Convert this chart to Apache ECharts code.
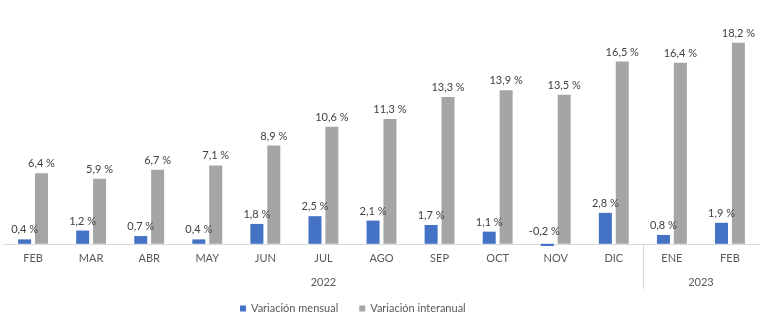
<!DOCTYPE html>
<html>
<head>
<meta charset="utf-8">
<script src="https://cdn.jsdelivr.net/npm/echarts@6/dist/echarts.min.js"></script>
<style>
  html, body { margin: 0; padding: 0; background: #ffffff; }
  #chart { width: 768px; height: 328px; }
</style>
</head>
<body>
<div id="chart"></div>
<script>
// Months shown on the category axis (Feb 2022 – Feb 2023)
const months = ['FEB', 'MAR', 'ABR', 'MAY', 'JUN', 'JUL', 'AGO', 'SEP', 'OCT', 'NOV', 'DIC', 'ENE', 'FEB'];

// Year groups: label, position on the month scale, and the divider between groups
const yearLabels = ['2022', '2023'];
const yearCenters = [5, 11.5];
const yearDividers = [10.5];

// Monthly and year-over-year price change, in percent
const monthlyChange = [0.4, 1.2, 0.7, 0.4, 1.8, 2.5, 2.1, 1.7, 1.1, -0.2, 2.8, 0.8, 1.9];
const annualChange = [6.4, 5.9, 6.7, 7.1, 8.9, 10.6, 11.3, 13.3, 13.9, 13.5, 16.5, 16.4, 18.2];

const seriesNames = ['Variación mensual', 'Variación interanual'];

const FONT = 'Lato, "Noto Sans", sans-serif';
const fmt = v => v.toFixed(1).replace('.', ',') + ' %';

const chart = echarts.init(document.getElementById('chart'), null, { renderer: 'canvas' });

const labelStyle = {
  show: true,
  position: 'top',
  distance: 4,
  color: '#404040',
  fontFamily: FONT,
  fontSize: 11,
  formatter: p => fmt(p.value)
};

chart.setOption({
  animation: false,
  backgroundColor: '#ffffff',
  grid: { left: 4, right: 9, top: 34, height: 212 },
  legend: {
    data: seriesNames,
    left: 235,
    top: 298,
    itemWidth: 6,
    itemHeight: 6,
    itemGap: 21,
    icon: 'rect',
    textStyle: { color: '#595959', fontFamily: FONT, fontSize: 11 }
  },
  xAxis: [
    {
      type: 'category',
      data: months,
      axisLine: { onZero: true, lineStyle: { color: '#D9D9D9', width: 1 } },
      axisTick: { show: false },
      axisLabel: { color: '#595959', fontFamily: FONT, fontSize: 11, margin: 7, interval: 0 }
    },
    {
      type: 'value',
      position: 'bottom',
      min: -0.5,
      max: months.length - 0.5,
      offset: -2,
      axisLine: { show: false, onZero: false },
      splitLine: { show: false },
      axisTick: {
        show: true,
        customValues: yearDividers,
        length: 45,
        lineStyle: { color: '#D9D9D9', width: 1 }
      },
      axisLabel: {
        customValues: yearCenters,
        margin: 33,
        color: '#595959',
        fontFamily: FONT,
        fontSize: 11,
        formatter: v => yearLabels[yearCenters.indexOf(v)]
      }
    }
  ],
  yAxis: {
    type: 'value',
    min: -0.2,
    max: 19,
    show: false,
    splitLine: { show: false }
  },
  series: [
    {
      name: seriesNames[0],
      type: 'bar',
      xAxisIndex: 0,
      barWidth: 13,
      barGap: '30%',
      itemStyle: { color: '#4472C4' },
      label: labelStyle,
      data: monthlyChange.map(v => v < 0
        ? { value: v, label: { position: 'top', offset: [-3, -3] } }
        : v)
    },
    {
      name: seriesNames[1],
      type: 'bar',
      xAxisIndex: 0,
      barWidth: 13,
      itemStyle: { color: '#A5A5A5' },
      label: labelStyle,
      data: annualChange
    }
  ]
});
</script>
</body>
</html>
